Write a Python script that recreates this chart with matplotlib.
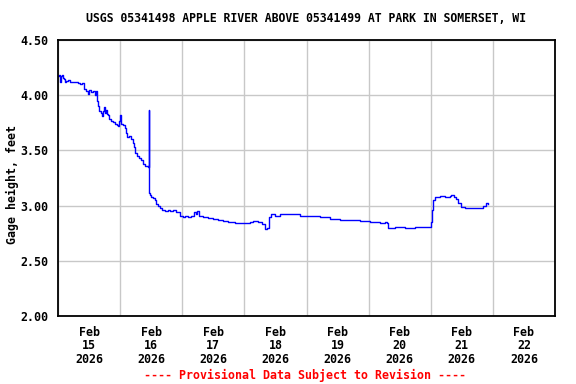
import matplotlib
matplotlib.use("Agg")
import matplotlib.pyplot as plt
import numpy as np
from datetime import datetime, timedelta
import matplotlib.dates as mdates

title = "USGS 05341498 APPLE RIVER ABOVE 05341499 AT PARK IN SOMERSET, WI"
ylabel = "Gage height, feet"
footer = "---- Provisional Data Subject to Revision ----"

start = datetime(2026, 2, 15)
# hours since Feb 15 00:00
hours = [0, 0.4, 0.8, 1.2, 1.5, 1.9, 2.3, 2.7, 3.1, 3.9, 4.6, 6.2, 7.7, 8.5, 9.3,
         10.0, 10.8, 11.6, 12.0, 12.7, 13.5, 14.3, 14.7, 15.1, 15.5, 15.8, 16.6,
         17.0, 17.4, 17.8, 18.2, 18.5, 18.9, 19.3, 19.7, 20.5, 21.2, 22.0, 22.8,
         23.2, 23.6, 24.0, 24.3, 25.1, 25.9, 26.3, 26.7, 27.4, 28.2, 29.0, 29.4,
         29.7, 30.5, 31.3, 32.1, 32.8, 33.6, 34.8, 35.2, 35.3, 35.5, 35.9, 36.7,
         37.5, 37.9, 38.6, 39.4, 40.2, 41.3, 42.5, 43.3, 44.4, 45.6, 47.1, 48.3,
         49.1, 50.2, 51.4, 52.5, 53.3, 53.7, 54.5, 56.0, 57.9, 59.9, 61.8, 63.7,
         65.7, 68.4, 72.2, 74.2, 75.3, 77.3, 78.8, 80.0, 80.8, 81.5, 82.3, 83.8,
         85.8, 89.6, 93.5, 97.3, 101.2, 105.1, 108.9, 112.8, 116.7, 120.5, 124.4,
         126.3, 127.1, 127.5, 130.2, 134.0, 137.9, 141.8, 143.7, 144.1, 144.5,
         144.9, 145.6, 147.6, 149.5, 151.4, 151.8, 153.0, 153.8, 154.5, 155.7,
         157.3, 159.2, 161.1, 163.0, 164.2, 165.3, 166.1]
gage = [4.17, 4.18, 4.12, 4.17, 4.18, 4.16, 4.15, 4.12, 4.13, 4.14, 4.12, 4.12, 4.11,
        4.10, 4.11, 4.06, 4.04, 4.01, 4.05, 4.03, 4.04, 4.00, 4.04, 3.95, 3.90,
        3.86, 3.84, 3.81, 3.86, 3.89, 3.84, 3.87, 3.83, 3.82, 3.78, 3.77, 3.76,
        3.74, 3.73, 3.72, 3.77, 3.82, 3.74, 3.73, 3.70, 3.66, 3.62, 3.63, 3.60,
        3.57, 3.53, 3.48, 3.45, 3.43, 3.41, 3.38, 3.36, 3.35, 3.87, 3.11, 3.10,
        3.08, 3.07, 3.05, 3.01, 3.00, 2.98, 2.96, 2.95, 2.96, 2.95, 2.96, 2.94,
        2.91, 2.90, 2.91, 2.90, 2.91, 2.94, 2.92, 2.95, 2.91, 2.90, 2.89, 2.88,
        2.87, 2.86, 2.85, 2.84, 2.84, 2.85, 2.86, 2.85, 2.83, 2.79, 2.80, 2.90,
        2.92, 2.91, 2.92, 2.92, 2.91, 2.91, 2.90, 2.88, 2.87, 2.87, 2.86, 2.85,
        2.84, 2.85, 2.84, 2.80, 2.81, 2.80, 2.81, 2.81, 2.81, 2.85, 2.96, 3.05,
        3.08, 3.09, 3.08, 3.09, 3.10, 3.08, 3.06, 3.02, 2.99, 2.98, 2.98, 2.98,
        2.98, 3.00, 3.02, 3.01]
day_labels = ["Feb\n15\n2026", "Feb\n16\n2026", "Feb\n17\n2026", "Feb\n18\n2026",
              "Feb\n19\n2026", "Feb\n20\n2026", "Feb\n21\n2026", "Feb\n22\n2026"]
yticks = [2.00, 2.50, 3.00, 3.50, 4.00, 4.50]

times = [start + timedelta(hours=h) for h in hours]

fs = 8.4
fig = plt.figure(figsize=(5.76, 3.84), dpi=100)
ax = fig.add_axes([58/576, 1-316/384, 497/576, 276/384])
ax.plot(times, gage, color="#0000ff", linewidth=1.0, drawstyle="steps-post")

ax.set_xlim(start, start + timedelta(days=8))
ax.set_ylim(2.0, 4.5)

font = dict(family="DejaVu Sans Mono", weight="bold")
ax.set_yticks(yticks)
ax.set_yticklabels([f"{v:.2f}" for v in yticks], fontsize=fs, **font)
major = [start + timedelta(days=i) for i in range(9)]
ax.set_xticks(major)
ax.set_xticklabels([])
minor = [start + timedelta(days=i, hours=12) for i in range(8)]
ax.set_xticks(minor, minor=True)
ax.set_xticklabels(day_labels, minor=True, fontsize=fs, linespacing=1.07, **font)
ax.tick_params(axis="both", which="both", length=0)
ax.tick_params(axis="x", which="minor", pad=7)
ax.tick_params(axis="y", pad=7)

ax.grid(True, which="major", color="#c8c8c8", linewidth=1.0)
ax.set_axisbelow(True)
for s in ax.spines.values():
    s.set_linewidth(1.3)
    s.set_color("black")

fig.text(12/576, 1-185/384, ylabel, rotation=90, ha="center", va="center",
         fontsize=fs, **font)
fig.text(306/576, 1-19/384, title, ha="center", va="center", fontsize=8.3, **font)
fig.text(305/576, 1-375/384, footer, ha="center", va="center", fontsize=fs,
         color="red", **font)

fig.savefig("out.png", dpi=100)
